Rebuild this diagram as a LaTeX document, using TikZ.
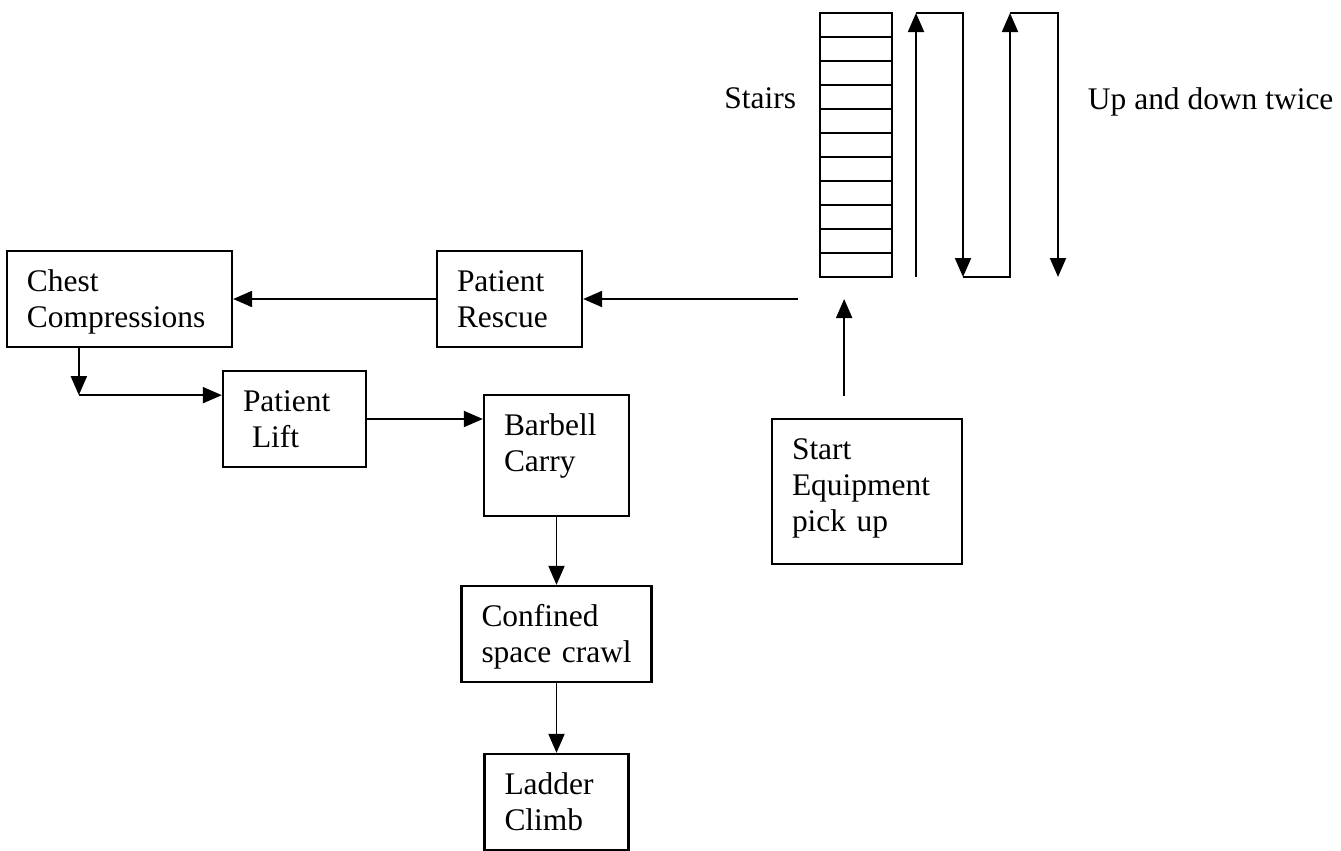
\documentclass[tikz,border=0pt]{standalone}
\usepackage{fontspec}
\setmainfont{Liberation Serif}
\usetikzlibrary{arrows.meta}

\begin{document}
\begin{tikzpicture}[>={Triangle[length=0.38cm,width=0.32cm]}, line width=1.1pt]
    \tikzstyle{every node}=[font=\fontsize{17.9}{20.5}\selectfont]
    \tikzstyle{stepbox}=[draw, line width=1.3pt, align=left, inner xsep=0.4cm, inner ysep=0.3cm, text height=0.5cm, text depth=0.82cm]
    \useasboundingbox (0,0) rectangle (26.82,-17);

    % patient rescue
    \node[stepbox, text width=2.1cm] (rescue) at (10.19,-5.98) {Patient\\Rescue};

    % chest compressions
    \node[stepbox, text width=3.7cm, left of=rescue, node distance=7.8cm] (chest) {Chest\\Compressions};

    % patient lift
    \node[stepbox, text width=2.06cm, below of=chest, node distance=2.4cm, xshift=3.5cm] (lift) {Patient\\\hspace*{0.18cm}Lift};

    % barbell carry
    \node[stepbox, text width=2.1cm, text depth=1.32cm, right of=lift, node distance=5.24cm, yshift=-0.73cm] (barbell) {Barbell\\Carry};

    % confined space crawl
    \node[stepbox, text width=3.0cm, below of=barbell, node distance=3.57cm] (confined) {Confined\\\mbox{space crawl}};

    % ladder climb
    \node[stepbox, text width=2.08cm, below of=confined, node distance=3.36cm] (ladder) {Ladder\\Climb};

    % start
    \node[stepbox, text width=3.0cm, text depth=1.8cm, right of=barbell, node distance=6.21cm, yshift=-0.72cm] (start) {Start\\Equipment\\pick up};

    % stairs
    \node[draw, line width=1.3pt, inner sep=0, outer sep=0, minimum width=1.44cm, minimum height=5.28cm, above of=start, node distance=6.93cm, xshift=-0.22cm] (stairs) {};
    \foreach \i in {1,...,10}
        \draw ([yshift=-\i*0.48cm]stairs.north west) -- ([yshift=-\i*0.48cm]stairs.north east);
    \node[anchor=base east, inner sep=0] (stairstext) at ([xshift=-0.46cm, yshift=-1.9cm]stairs.north west) {Stairs};

    % up and down twice
    \coordinate (up1bot) at ([xshift=0.48cm]stairs.south east);
    \coordinate (up1top) at ([xshift=0.48cm]stairs.north east);
    \coordinate (dn1top) at ([xshift=1.42cm]stairs.north east);
    \coordinate (dn1bot) at ([xshift=1.42cm]stairs.south east);
    \coordinate (up2bot) at ([xshift=2.36cm]stairs.south east);
    \coordinate (up2top) at ([xshift=2.36cm]stairs.north east);
    \coordinate (dn2top) at ([xshift=3.32cm]stairs.north east);
    \coordinate (dn2bot) at ([xshift=3.32cm]stairs.south east);
    \draw[->] (up1bot) -- (up1top);
    \draw[->] (up1top) -- (dn1top) -- (dn1bot);
    \draw[->] (dn1bot) -- (up2bot) -- (up2top);
    \draw[->] (up2top) -- (dn2top) -- (dn2bot);
    \node[anchor=base west, inner sep=0] (twicetext) at ([xshift=0.58cm, yshift=-1.92cm]dn2top) {Up and down twice};

    % connectors
    \coordinate (exit) at ([xshift=4.3cm]rescue.east);
    \coordinate (landing) at ([xshift=0.92cm]exit);
    \coordinate (bend) at ([xshift=1.46cm, yshift=-0.94cm]chest.south west);
    \draw[->, shorten <=0.44cm] (start.north -| landing) -- (landing);
    \draw[->] (exit) -- (rescue.east);
    \draw[->] (rescue.west) -- (chest.east);
    \draw[->] (chest.south -| bend) -- (bend);
    \draw[->] (bend) -- (bend -| lift.west);
    \draw[->] (lift.east) -- (lift.east -| barbell.west);
    \draw[->] (barbell.south) -- (confined.north);
    \draw[->] (confined.south) -- (ladder.north);

\end{tikzpicture}
\end{document}
